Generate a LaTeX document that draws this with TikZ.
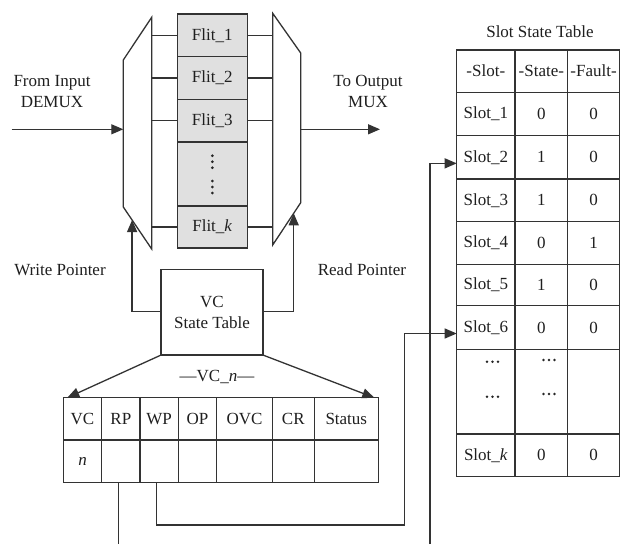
\documentclass[tikz,border=0pt]{standalone}
\usepackage{fontspec}
\setmainfont{Liberation Serif}
\usetikzlibrary{arrows.meta,calc}
\begin{document}
\begin{tikzpicture}[x=1pt,y=-1pt,
  every node/.style={font=\fontsize{17}{21}\selectfont, text=black!88, inner sep=0pt, outer sep=0pt},
  line/.style={draw=black!80, line width=1.3pt},
  arr/.style={line, -{Triangle[length=12pt,width=10pt]}},
  cell/.style={draw=black!80, line width=1.3pt},
  flit/.style={cell, fill=black!12, minimum width=70pt},
  lbl/.style={align=center},
  dot/.style={fill=black!85},
]
% canvas
\fill[white] (0,0) rectangle (621,544);
\useasboundingbox (0,0) rectangle (621,544);

% ---- flit buffer ----
\node[flit, minimum height=42.7pt] (f1) at (212.3,35.3)  {Flit\_1};
\node[flit, minimum height=42.7pt] (f2) at (212.3,78)    {Flit\_2};
\node[flit, minimum height=42.7pt] (f3) at (212.3,120.7) {Flit\_3};
\node[flit, minimum height=64pt]   (f4) at (212.3,174)   {};
\node[flit, minimum height=42pt]   (fk) at (212.3,227)   {Flit\_\textit{k}};
% two columns of vertical dots in the elided slot
\foreach \yy in {155.7,161.7,167.7,181,187,193}
  \fill[dot] (f4.center |- 0,\yy) circle (1.5pt);

% ---- input demultiplexer ----
\coordinate (dA) at (123.3,60);
\coordinate (dB) at (151.7,17.3);
\coordinate (dC) at (151.7,249);
\coordinate (dD) at (123.3,207);
\draw[line, line join=miter] (dA) -- (dB) -- (dC) -- (dD) -- cycle;
\foreach \f in {f1,f2,f3,fk} \draw[line] (\f.west -| dB) -- (\f.west);

% ---- output multiplexer ----
\coordinate (mA) at (272.7,13.3);
\coordinate (mB) at (300.7,53);
\coordinate (mC) at (300.7,202.7);
\coordinate (mD) at (272.7,245);
\draw[line, line join=miter] (mA) -- (mB) -- (mC) -- (mD) -- cycle;
\foreach \f in {f1,f2,f3,fk} \draw[line] (\f.east) -- (\f.east -| mA);

% ---- data flow in and out ----
\coordinate (inS) at (11.7,129.3);
\coordinate (outE) at (380,129.3);
\draw[arr] (inS) -- (inS -| dA);
\draw[arr] (outE -| mB) -- (outE);
\node[lbl] (tin)  at (52,91.2)  {From Input\\DEMUX};
\node[lbl] (tout) at (368,91.2) {To Output\\MUX};

% ---- VC state table and pointers ----
\node[cell, lbl, minimum width=102pt, minimum height=85.7pt] (vcs) at (212,312.2) {VC\\State Table};
\coordinate (wtip) at ($(dD)!0.31!(dC)$);
\coordinate (rtip) at ($(mC)!0.25!(mD)$);
\draw[arr] ([yshift=1pt]vcs.west) -| (wtip);
\draw[arr] ([yshift=1pt]vcs.east) -| (rtip);
\node (wpl) at (60,270)  {Write Pointer};
\node (rpl) at (362,270) {Read Pointer};

% ---- VC_n entry ----
\foreach \nm/\xc/\ww/\ta/\tb in {1/82.5/38.4/VC/\textit{n}, 2/120.85/38.3/RP/, 3/159.15/38.3/WP/,
    4/197.5/38.4/OP/, 5/244.5/55.6/OVC/, 6/293.3/42/CR/, 7/346.3/64/Status/}{
  \node[cell, minimum width=\ww pt, minimum height=42.3pt] (h\nm) at (\xc,418.85) {\ta};
  \node[cell, minimum width=\ww pt, minimum height=42.7pt] (r\nm) at (\xc,461.35) {\tb};
}
\node (vcn) at (217,377) {---VC\_\textit{n}---};
\draw[arr] (vcs.south west) -- ([xshift=4pt]h1.north west);
\draw[arr] (vcs.south east) -- ([xshift=-4pt]h7.north east);

% ---- slot state table ----
\node (stt) at (540,32) {Slot State Table};
\foreach \nm/\yc/\hh/\ta/\tb/\tc in {hd/71.15/42.3/-Slot-/-State-/-Fault-,
    s1/114/43.4/Slot\_1/0/0, s2/157.35/43.3/Slot\_2/1/0, s3/200.35/42.7/Slot\_3/1/0,
    s4/243/42.6/Slot\_4/0/1, s5/285/41.4/Slot\_5/1/0, s6/327.5/43.6/Slot\_6/0/0,
    sx/391.65/84.7//, sk/455.35/42.7/Slot\_\textit{k}/0/0}{
  \node[cell, minimum width=58.3pt, minimum height=\hh pt] (\nm a) at (485.85,\yc) {\ta};
  \node[cell, minimum width=52.7pt, minimum height=\hh pt] (\nm b) at (541.35,\yc) {\tb};
  \node[cell, minimum width=51.8pt, minimum height=\hh pt] (\nm c) at (593.6,\yc)  {\tc};
}
% elided rows: horizontal dot groups
\foreach \xx/\yy in {492.5/361.7, 492.5/396.7, 549/360, 549/394}
  \foreach \dx in {-5.5,0,5.5}
    \fill[dot] (\xx+\dx,\yy) circle (1.3pt);

% ---- pointer links into the slot table ----
\coordinate (b1) at (118.35,544);
\coordinate (b2) at (430,544);
\coordinate (wpturn) at (404.3,525);
\draw[line] ([xshift=-2.5pt]r2.south) -- (b1);
\draw[arr] ([xshift=-2.5pt]r3.south) |- (wpturn) |- ([yshift=-6pt]s6a.west);
\draw[arr] (b2) |- ([yshift=-6pt]s2a.west);
\end{tikzpicture}
\end{document}
